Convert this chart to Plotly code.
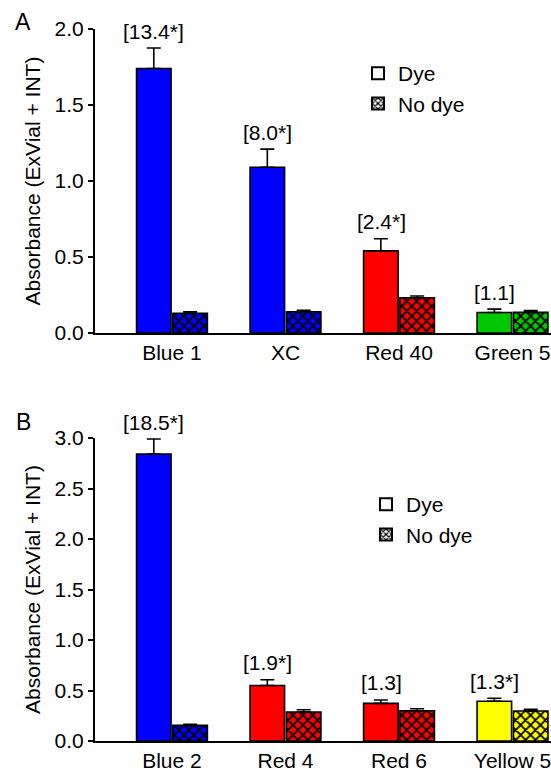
import plotly.graph_objects as go

# ---------------- data ----------------
cats_a = ["Blue 1", "XC", "Red 40", "Green 5"]
dye_a = [1.74, 1.09, 0.54, 0.135]
dye_err_a = [0.135, 0.12, 0.08, 0.022]
nodye_a = [0.13, 0.14, 0.232, 0.136]
nodye_err_a = [0.01, 0.01, 0.011, 0.011]
colors_a = ["#0000FF", "#0000FF", "#FF0000", "#00C800"]
ratio_a = ["[13.4*]", "[8.0*]", "[2.4*]", "[1.1]"]

cats_b = ["Blue 2", "Red 4", "Red 6", "Yellow 5"]
dye_b = [2.84, 0.55, 0.373, 0.393]
dye_err_b = [0.15, 0.057, 0.033, 0.03]
nodye_b = [0.155, 0.287, 0.30, 0.297]
nodye_err_b = [0.01, 0.022, 0.02, 0.016]
colors_b = ["#0000FF", "#FF0000", "#FF0000", "#FFFF00"]
ratio_b = ["[18.5*]", "[1.9*]", "[1.3]", "[1.3*]"]

yticks_a = [0, 0.5, 1.0, 1.5, 2.0]
yticks_b = [0, 0.5, 1.0, 1.5, 2.0, 2.5, 3.0]

FONT = "Arial, Liberation Sans, sans-serif"
FS = 21
W, H = 551, 769
L = 95
PW = W - L


def px_x(p):
    return (p - L) / PW


def px_y(p):
    return 1 - p / H


fig = go.Figure()


def err(arr):
    return dict(type="data", symmetric=False, array=arr, arrayminus=[0] * len(arr),
                color="black", thickness=1.6, width=7)


def add_panel(cats, dye, dye_err, nodye, nodye_err, colors, xa, ya, legend):
    fig.add_trace(go.Bar(
        x=cats, y=dye, xaxis=xa, yaxis=ya, offsetgroup="dye", showlegend=False,
        marker=dict(color=colors, line=dict(color="black", width=1.6)),
        error_y=err(dye_err)))
    fig.add_trace(go.Bar(
        x=cats, y=nodye, xaxis=xa, yaxis=ya, offsetgroup="nodye", showlegend=False,
        marker=dict(color="black", line=dict(color="black", width=1.6),
                    pattern=dict(shape="x", fgcolor="black", fgopacity=1, bgcolor=colors,
                                 size=7, solidity=0.45, fillmode="replace")),
        error_y=err(nodye_err)))
    # legend entries
    fig.add_trace(go.Bar(
        x=[None], y=[None], xaxis=xa, yaxis=ya, offsetgroup="dye", name="Dye",
        legend=legend, legendgroup=legend + "d",
        marker=dict(color="white", line=dict(color="black", width=2))))
    fig.add_trace(go.Bar(
        x=[None], y=[None], xaxis=xa, yaxis=ya, offsetgroup="nodye", name="No dye",
        legend=legend, legendgroup=legend + "n",
        marker=dict(color="black", line=dict(color="black", width=2),
                    pattern=dict(shape="x", fgcolor="black", fgopacity=1, bgcolor="white",
                                 size=5, solidity=0.5, fillmode="replace"))))


add_panel(cats_a, dye_a, dye_err_a, nodye_a, nodye_err_a, colors_a, "x", "y", "legend")
add_panel(cats_b, dye_b, dye_err_b, nodye_b, nodye_err_b, colors_b, "x2", "y2", "legend2")

annotations = []
for cats, dye, dye_err, ratio, xr, yr in [
        (cats_a, dye_a, dye_err_a, ratio_a, "x", "y"),
        (cats_b, dye_b, dye_err_b, ratio_b, "x2", "y2")]:
    for c, v, e, t in zip(cats, dye, dye_err, ratio):
        annotations.append(dict(x=c, y=v + e, xref=xr, yref=yr, text=t, showarrow=False,
                                xshift=-18, yshift=17, yanchor="middle",
                                font=dict(family=FONT, size=FS, color="black")))

for letter, ypx in [("A", 22), ("B", 422)]:
    annotations.append(dict(x=px_x(23), y=px_y(ypx), xref="paper", yref="paper", text=letter,
                            showarrow=False, xanchor="center", yanchor="middle",
                            font=dict(family=FONT, size=23, color="black")))

xaxis_common = dict(type="category", range=[-0.678, 3.339], showline=True, linecolor="black",
                    linewidth=2, ticks="", automargin=False,
                    tickfont=dict(family=FONT, size=FS, color="black"), showgrid=False,
                    zeroline=False, fixedrange=True)
yaxis_common = dict(showline=True, linecolor="black", linewidth=2, ticks="outside", ticklen=5,
                    tickwidth=2, tickcolor="black", tickformat=".1f", automargin=False,
                    tickfont=dict(family=FONT, size=FS, color="black"), showgrid=False,
                    zeroline=False,
                    title=dict(text="Absorbance (ExVial + INT)", standoff=8,
                               font=dict(family=FONT, size=FS, color="black")))

fig.update_layout(
    width=W, height=H,
    margin=dict(l=L, r=0, t=0, b=0, autoexpand=False),
    paper_bgcolor="white", plot_bgcolor="white",
    barmode="group", bargap=0.36, bargroupgap=0.05,
    font=dict(family=FONT, size=FS, color="black"),
    xaxis=dict(xaxis_common, anchor="y", domain=[0, 1]),
    xaxis2=dict(xaxis_common, anchor="y2", domain=[0, 1]),
    yaxis=dict(yaxis_common, anchor="x", domain=[px_y(333), px_y(29)], range=[0, 2.0],
               tickvals=yticks_a),
    yaxis2=dict(yaxis_common, anchor="x2", domain=[px_y(741), px_y(438)], range=[0, 3.0],
                tickvals=yticks_b),
    legend=dict(x=px_x(358), y=px_y(53), xanchor="left", yanchor="top",
                bgcolor="rgba(0,0,0,0)", tracegroupgap=0,
                font=dict(family=FONT, size=FS, color="black")),
    legend2=dict(x=px_x(366), y=px_y(484), xanchor="left", yanchor="top",
                 bgcolor="rgba(0,0,0,0)", tracegroupgap=0,
                 font=dict(family=FONT, size=FS, color="black")),
    annotations=annotations,
)

fig.write_html("out.html", config={"displayModeBar": False},
               post_script="document.body.style.margin='0';document.body.style.overflow='hidden';")
